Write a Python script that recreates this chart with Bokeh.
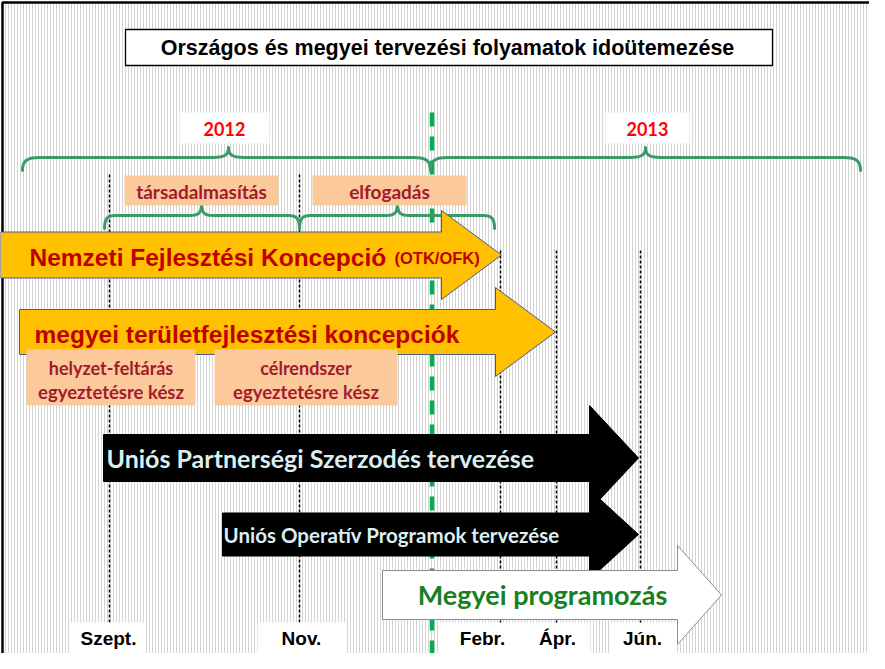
import numpy as np
from bokeh.plotting import figure
from bokeh.models import Range1d
from bokeh.core.properties import value
from bokeh.embed import file_html
from bokeh.resources import INLINE

# ---------------- data ----------------
title = "Országos és megyei tervezési folyamatok idoütemezése"

months = ["Szept.", "Nov.", "Febr.", "Ápr.", "Jún."]
month_line_x = [117, 307, 508, 564, 648]
month_line_top = [182, 182, 258, 258, 258]
month_label_x = [116, 309, 490, 565, 650]
month_box_left = [77, 265, 446, 542, 618]
month_box_right = [153, 353, 542, 598, 683]

years = ["2012", "2013"]
year_start = [30, 438]
year_end = [438, 868]
year_peak = [236, 653]
year_box_left = [187, 613]
year_box_right = [277, 697]

phases = ["társadalmasítás", "elfogadás"]
phase_start = [112, 307]
phase_end = [307, 502]
phase_peak = [209, 405]
phase_box_left = [132, 320]
phase_box_right = [286, 474]

steps_line1 = ["helyzet-feltárás", "célrendszer"]
steps_line2 = ["egyeztetésre kész", "egyeztetésre kész"]
step_box_left = [34, 222]
step_box_right = [203, 405]

tasks = ["Nemzeti Fejlesztési Koncepció", "megyei területfejlesztési koncepciók",
         "Uniós Partnerségi Szerzodés tervezése", "Uniós Operatív Programok tervezése",
         "Megyei programozás"]
task_start = [8, 27, 111, 230, 390]
task_head = [449, 503, 597, 597, 685]
task_end = [509, 563, 646, 646, 729]
task_y = [262.5, 339.5, 465.5, 542, 602.5]
task_body_half = [23, 22.5, 23.5, 21.5, 24.5]
task_head_half = [44.5, 44.5, 52.5, 45, 49.5]

# ---------------- figure ----------------
W, H = 869, 653
p = figure(width=W, height=H, x_range=Range1d(8, 8 + W), y_range=Range1d(8 + H, 8),
           output_backend="svg", toolbar_location=None, min_border=0,
           x_axis_location=None, y_axis_location=None)
p.grid.visible = False
p.outline_line_color = None
p.background_fill_color = "white"
p.border_fill_color = "white"

BOTTOM = 8 + H + 5
RIGHT = 8 + W + 5

# striped background
p.quad(left=[10], right=[RIGHT], top=[10], bottom=[BOTTOM], fill_color="white",
       line_color=None, hatch_pattern="vertical_line", hatch_color="#d4d4d4",
       hatch_scale=3, hatch_weight=1)
# frame
p.line([10, 10, RIGHT], [BOTTOM, 10, 10], line_color="black", line_width=2.5)

# title box
p.quad(left=[133], right=[780], top=[37], bottom=[73], fill_color="white",
       line_color="black", line_width=1.3)
p.text(x=[455], y=[55], text=[title], text_font=value("Liberation Sans"),
       text_font_style="bold", text_font_size=value("21.5px"), text_align="center",
       text_baseline="middle", text_color="black")

# month dashed lines
p.segment(x0=month_line_x, y0=month_line_top, x1=month_line_x, y1=[BOTTOM] * len(months),
          line_color="black", line_width=1.5, line_dash="3 2")

# green year boundary
p.segment(x0=[year_start[1] + 1.5], y0=[120], x1=[year_start[1] + 1.5], y1=[BOTTOM],
          line_color="#00b050", line_width=4.5, line_dash="14 10")


def cubic(P0, P1, P2, P3, n=24):
    t = np.linspace(0, 1, n)[:, None]
    P0, P1, P2, P3 = map(np.array, (P0, P1, P2, P3))
    return ((1 - t) ** 3) * P0 + 3 * ((1 - t) ** 2) * t * P1 + 3 * (1 - t) * t ** 2 * P2 + t ** 3 * P3


def brace(x0, x1, xm, y_end, y_line, y_peak, re, rp):
    segs = [
        cubic((x0, y_end), (x0, y_line), (x0 + 0.4 * re, y_line), (x0 + re, y_line)),
        np.array([(x0 + re, y_line), (xm - rp, y_line)]),
        cubic((xm - rp, y_line), (xm - 0.3 * rp, y_line), (xm, y_line), (xm, y_peak)),
        cubic((xm, y_peak), (xm, y_line), (xm + 0.3 * rp, y_line), (xm + rp, y_line)),
        np.array([(xm + rp, y_line), (x1 - re, y_line)]),
        cubic((x1 - re, y_line), (x1 - 0.4 * re, y_line), (x1, y_line), (x1, y_end)),
    ]
    pts = np.vstack(segs)
    return list(pts[:, 0]), list(pts[:, 1])


bx, by = [], []
for a, b, m in zip(year_start, year_end, year_peak):
    xx, yy = brace(a, b, m, 178, 165, 155, 22, 24)
    bx.append(xx); by.append(yy)
for a, b, m in zip(phase_start, phase_end, phase_peak):
    xx, yy = brace(a, b, m, 236, 223, 211, 14, 16)
    bx.append(xx); by.append(yy)
p.multi_line(bx, by, line_color="#3c9a68", line_width=3, line_join="round", line_cap="round")

# year labels
p.quad(left=year_box_left, right=year_box_right, top=[120] * 2, bottom=[151] * 2,
       fill_color="white", line_color=None)
p.text(x=[(a + b) / 2 for a, b in zip(year_box_left, year_box_right)], y=[136] * 2, text=years,
       text_font=value("Lato"), text_font_style="bold", text_font_size=value("18px"),
       text_align="center", text_baseline="middle", text_color="#ff0000")

# phase labels
p.quad(left=phase_box_left, right=phase_box_right, top=[183] * 2, bottom=[213] * 2,
       fill_color="#fbc99a", line_color=None)
p.text(x=[(a + b) / 2 for a, b in zip(phase_box_left, phase_box_right)], y=[198.5] * 2, text=phases,
       text_font=value("Lato"), text_font_style="bold", text_font_size=value("19px"),
       text_align="center", text_baseline="middle", text_color="#a31a2e")

# arrows
xs, ys = [], []
for x0, xh, xt, yc, bh, hh in zip(task_start, task_head, task_end, task_y, task_body_half, task_head_half):
    xs.append([x0, xh, xh, xt, xh, xh, x0])
    ys.append([yc - bh, yc - bh, yc - hh, yc, yc + hh, yc + bh, yc + bh])
fills = ["#ffc000", "#ffc000", "black", "black", "white"]
lines = ["#4d5a8c", "#4d5a8c", "black", "black", "#8c8c8c"]
for i in range(len(tasks)):
    p.patch(xs[i], ys[i], fill_color=fills[i], line_color=lines[i], line_width=1)

# step boxes (over arrow 2)
p.quad(left=step_box_left, right=step_box_right, top=[357] * 2, bottom=[413] * 2,
       fill_color="#fbc99a", line_color=None)
cx = [(a + b) / 2 for a, b in zip(step_box_left, step_box_right)]
p.text(x=cx, y=[375] * 2, text=steps_line1, text_font=value("Lato"), text_font_style="bold",
       text_font_size=value("18px"), text_align="center", text_baseline="middle", text_color="#a31a2e")
p.text(x=cx, y=[399] * 2, text=steps_line2, text_font=value("Lato"), text_font_style="bold",
       text_font_size=value("18.5px"), text_align="center", text_baseline="middle", text_color="#a31a2e")

# arrow texts
p.text(x=[37], y=[task_y[0] + 2], text=[tasks[0]], text_font=value("Liberation Sans"),
       text_font_style="bold", text_font_size=value("24.5px"), text_align="left",
       text_baseline="middle", text_color="#c00000")
p.text(x=[402], y=[task_y[0] + 3], text=["(OTK/OFK)"], text_font=value("Liberation Sans"),
       text_font_style="bold", text_font_size=value("16.5px"), text_align="left",
       text_baseline="middle", text_color="#c00000")
p.text(x=[42], y=[task_y[1] + 2], text=[tasks[1]], text_font=value("Liberation Sans"),
       text_font_style="bold", text_font_size=value("24.5px"), text_align="left",
       text_baseline="middle", text_color="#c00000")
p.text(x=[114], y=[task_y[2]], text=[tasks[2]], text_font=value("Lato"),
       text_font_style="bold", text_font_size=value("25px"), text_align="left",
       text_baseline="middle", text_color="#dbeef4")
p.text(x=[231], y=[task_y[3]], text=[tasks[3]], text_font=value("Lato"),
       text_font_style="bold", text_font_size=value("20.5px"), text_align="left",
       text_baseline="middle", text_color="#dbeef4")
p.text(x=[550], y=[task_y[4] - 1], text=[tasks[4]], text_font=value("Lato"),
       text_font_style="bold", text_font_size=value("27px"), text_align="center",
       text_baseline="middle", text_color="#17801f")

# month labels
p.quad(left=month_box_left, right=month_box_right, top=[630] * 5, bottom=[661] * 5,
       fill_color="white", line_color=None)
p.text(x=month_label_x, y=[646] * 5, text=months, text_font=value("Liberation Sans"),
       text_font_style="bold", text_font_size=value("19px"), text_align="center",
       text_baseline="middle", text_color="black")

open("out.html", "w").write(file_html(p, INLINE))
